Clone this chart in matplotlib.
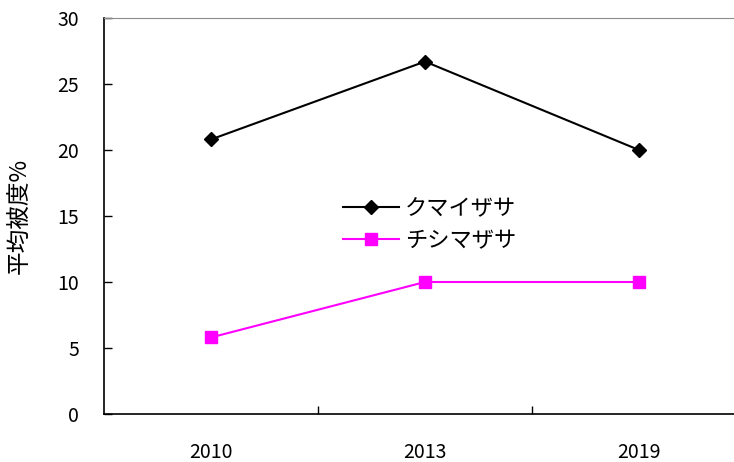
import matplotlib
matplotlib.use('Agg')
import matplotlib.pyplot as plt

plt.rcParams['font.family'] = ['Noto Sans CJK JP', 'DejaVu Sans']

# survey years and mean coverage (%) per bamboo species
years = ['2010', '2013', '2019']
kumaizasa = [20.8, 26.7, 20.0]
chishimazasa = [5.8, 10.0, 10.0]
labels = ['クマイザサ', 'チシマザサ']

fig = plt.figure(figsize=(7.34, 4.62), dpi=100)
# plot area runs off the right edge of the figure
ax = fig.add_axes([104 / 734, 48 / 462, 642 / 734, 396 / 462])

x = range(len(years))
ax.plot(x, kumaizasa, color='black', lw=1.5, marker='D', markersize=7.5, label=labels[0])
ax.plot(x, chishimazasa, color='#ff00ff', lw=1.5, marker='s', markersize=8, label=labels[1])

ax.set_xlim(-0.5, 2.5)
ax.set_ylim(0, 30)
ax.set_yticks(range(0, 31, 5))
ax.set_xticks(list(x))
ax.set_xticklabels(years)
ax.set_xticks([0.5, 1.5], minor=True)
ax.tick_params(axis='x', which='major', length=0, pad=20, labelsize=14)
ax.tick_params(axis='x', which='minor', direction='in', length=6, width=1)
ax.tick_params(axis='y', direction='in', length=6, width=1, pad=18, labelsize=14)

ax.spines['top'].set_color('#8c8c8c')
ax.spines['right'].set_visible(False)
for s in ('left', 'bottom'):
    ax.spines[s].set_linewidth(1.2)

ax.set_ylabel('平均被度%', fontsize=17)
ax.yaxis.set_label_coords(-0.113, 0.5)

ax.legend(loc='upper left', bbox_to_anchor=(323 / 734, 1 - 177 / 462),
          bbox_transform=fig.transFigure, frameon=False, fontsize=16,
          handlelength=2.5, handletextpad=0.3, labelspacing=0.4)

fig.savefig('out.png', dpi=100)
